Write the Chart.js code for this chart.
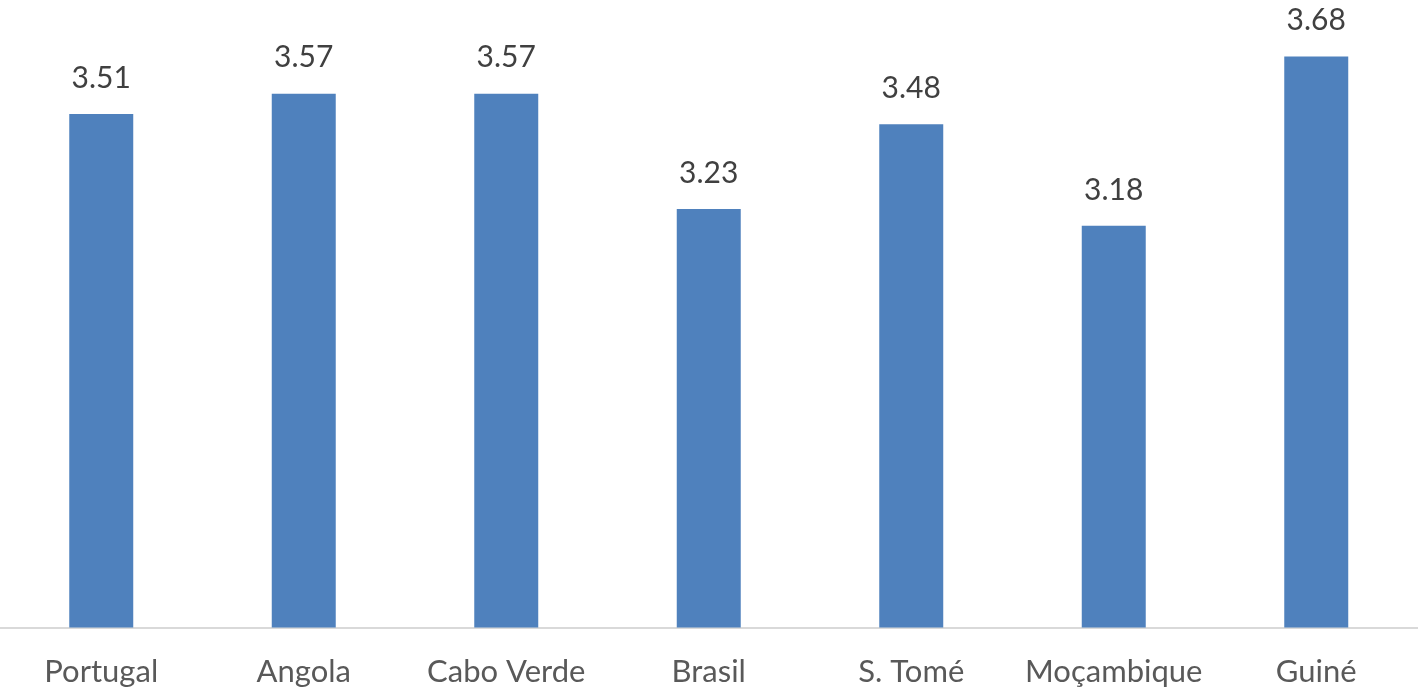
<!DOCTYPE html>
<html>
<head>
<meta charset="utf-8">
<script src="https://cdn.jsdelivr.net/npm/chart.js@4/dist/chart.umd.min.js"></script>
<style>
  html, body { margin: 0; padding: 0; background: #ffffff; }
  #wrap { width: 1421px; height: 692px; position: relative; }
</style>
</head>
<body>
<div id="wrap"><canvas id="c"></canvas></div>
<script>
const categories = ["Portugal", "Angola", "Cabo Verde", "Brasil", "S. Tomé", "Moçambique", "Guiné"];
const values = [3.51, 3.57, 3.57, 3.23, 3.48, 3.18, 3.68];
const valueLabels = ["3.51", "3.57", "3.57", "3.23", "3.48", "3.18", "3.68"];

const FONT = "Lato, 'Noto Sans', sans-serif";

const dataLabelPlugin = {
  id: 'dataLabels',
  afterDatasetsDraw(chart) {
    const ctx = chart.ctx;
    const meta = chart.getDatasetMeta(0);
    ctx.save();
    ctx.font = "30px " + FONT;
    ctx.fillStyle = "#404040";
    ctx.textAlign = "center";
    ctx.textBaseline = "middle";
    meta.data.forEach((bar, i) => {
      ctx.fillText(valueLabels[i], bar.x, bar.y - 36);
    });
    ctx.restore();
  }
};

new Chart(document.getElementById('c'), {
  type: 'bar',
  data: {
    labels: categories,
    datasets: [{
      data: values,
      backgroundColor: '#4F81BD',
      borderWidth: 0,
      barPercentage: 0.316,
      categoryPercentage: 1.0
    }]
  },
  options: {
    responsive: true,
    maintainAspectRatio: false,
    animation: false,
    layout: { padding: { left: 0, right: 3.5, top: 0, bottom: 0 } },
    plugins: {
      legend: { display: false },
      tooltip: { enabled: false },
      title: { display: false }
    },
    scales: {
      x: {
        grid: { display: false, drawTicks: false },
        border: { display: true, color: '#D9D9D9', width: 2 },
        ticks: {
          color: '#595959',
          font: { family: FONT, size: 31 },
          padding: 26,
          maxRotation: 0,
          autoSkip: false
        },
        afterFit(scale) { scale.height = 64.5; }
      },
      y: {
        display: false,
        min: 1.994,
        max: 3.847
      }
    }
  },
  plugins: [dataLabelPlugin]
});
</script>
</body>
</html>
